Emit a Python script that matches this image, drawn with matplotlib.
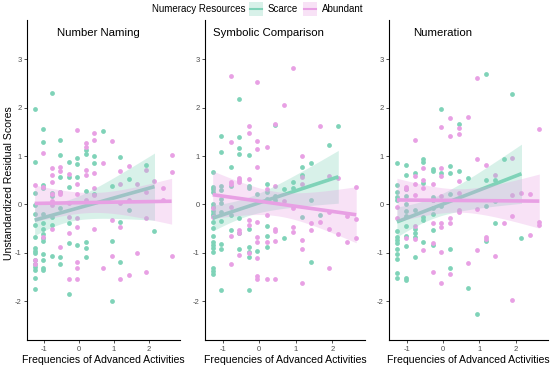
import matplotlib.pyplot as plt
import numpy as np
from matplotlib import rcParams
from matplotlib.patches import Rectangle
from matplotlib.lines import Line2D

rcParams.update({"font.family": ["Liberation Sans", "DejaVu Sans"]})

# frequency levels (x positions used in the data)
lv = [-1.27, -1.03, -0.78, -0.54, -0.29, -0.05, 0.20, 0.44, 0.69,
      0.93, 1.18, 1.42, 1.67, 1.91, 2.16, 2.40, 2.65]

panels = ["Number Naming", "Symbolic Comparison", "Numeration"]
groups = ["Scarce", "Abundant"]
colors = {"Scarce": "#7fd3b8", "Abundant": "#e8a0e4"}

# points per panel / group: {level index: [y values]}
nn_scarce = {
    0: [1.98, 0.87, 0.24, -0.01, -0.19, -0.43, -0.67, -0.89, -0.96, -1.01, -1.15, -1.23, -1.29, -1.36, -1.51, -1.75],
    1: [1.55, 1.29, 0.40, 0.33, -0.20, -0.38, -0.50, -0.62, -0.70, -0.76, -1.03, -1.14, -1.32, -1.36],
    2: [2.30, 0.23, 0.17, -0.25, -0.43, -1.06],
    3: [1.33, 1.02, 0.57, 0.26, -0.08, -1.08, -1.22],
    4: [0.88, 0.56, 0.36, -0.38, -0.80, -1.84],
    5: [0.96, 0.83, 0.56, -0.84],
    6: [1.13, 1.05, 0.28, -0.78, -0.89, -1.08],
    7: [1.00, 0.85, 0.21],
    8: [1.51],
    9: [0.39, -0.76, -2.00],
    10: [0.98, -0.37, -1.18],
    11: [0.52, -0.12],
    13: [0.81],
    14: [-0.54],
}
nn_abundant = {
    0: [0.41, -1.15, -1.23],
    1: [1.07, 0.36, -0.68],
    2: [0.76, 0.61, 0.47, 0.21, 0.08, -0.01, -0.51],
    3: [0.78, 0.69, 0.26, 0.21, -0.87],
    4: [0.63, 0.02, -0.25, -0.58, -1.53],
    5: [1.53, 0.42, 0.21, -0.29, -0.47, -1.18, -1.32, -1.55],
    6: [1.27, 1.18, 0.71, 0.61, 0.10],
    7: [1.48, 1.33, 0.64, 0.34, 0.19, -0.50],
    8: [0.85, -1.31],
    9: [1.31, -0.32, -1.07],
    10: [0.70, 0.43, 0.02, -0.47, -1.55],
    11: [0.79, 0.10, -1.46],
    12: [0.43, -1.01],
    13: [0.71, 0.26, -0.27, -1.40],
    14: [0.49],
    15: [0.33, 0.09],
    16: [1.03, 0.66, -1.07],
}
sc_scarce = {
    0: [0.67, 0.36, 0.31, 0.25, 0.00, -0.05, -0.13, -0.19, -0.24, -0.36, -0.48, -0.65, -0.77, -0.84, -0.89, -0.98, -1.32, -1.38, -1.44],
    1: [1.41, 1.09, 0.39, 0.30, 0.12, 0.03, -0.15, -0.34, -0.81, -0.92, -1.77],
    2: [0.78, 0.39, -0.22, -0.52],
    3: [2.18, 1.40, 1.17, 1.04, -0.29, -0.59, -0.91],
    4: [1.02, 0.39, 0.33, -0.50, -0.87, -0.99, -1.08, -1.76],
    5: [0.21, -0.96],
    6: [0.42, 0.26, 0.11, -0.45, -0.65, -0.87],
    7: [1.65, 0.18, 0.10],
    8: [0.31, -0.70],
    9: [0.47, 0.34],
    10: [0.78, 0.61, -0.25],
    11: [0.86, 0.09, -1.18],
    12: [-0.22],
    13: [1.22],
    14: [1.62],
}
sc_abundant = {
    0: [-0.08, -0.25],
    2: [2.66, 1.28, 0.47, 0.42, -0.05, -0.65, -1.24],
    3: [0.54, 0.50, 0.47, -0.52, -0.58, -1.05],
    4: [1.63, 1.48, 0.52, -0.32, -0.43, -1.01],
    5: [2.52, 1.32, 1.14, 0.77, -0.36, -0.67, -0.77, -1.10, -1.48, -1.55],
    6: [1.18, 0.31, -0.21, -0.77, -1.55],
    7: [1.66, 0.38, -0.50, -0.54, -0.76, -1.53],
    8: [2.06, 0.08],
    9: [2.81, -0.08, -0.46, -0.57],
    10: [1.00, 0.57, 0.43, -0.74, -0.91, -1.62],
    11: [-0.39, -0.52],
    12: [1.62, -0.36],
    13: [0.59, -0.15, -0.50, -1.32],
    14: [0.54, -0.61],
    15: [-0.23, -0.77],
    16: [0.36, -0.30, -0.69],
}
nu_scarce = {
    0: [0.86, 0.40, 0.26, 0.16, 0.10, -0.55, -0.67, -0.74, -0.79, -0.91, -1.03, -1.13, -1.41, -1.51],
    1: [0.81, 0.61, 0.31, 0.18, 0.01, -0.13, -0.24, -0.45, -0.65, -0.85, -1.51, -1.56],
    2: [0.65, -0.12, -0.50, -0.60, -0.68, -1.08],
    3: [0.93, 0.88, 0.45, -0.25, -0.32, -0.77],
    4: [0.74, 0.69, 0.16, 0.09, -0.08, -0.20, -0.52, -0.83],
    5: [1.97, 0.64, -0.03],
    6: [0.79, 0.65, 0.21, -0.91, -1.31],
    7: [1.67, 0.70],
    8: [0.54, -1.73],
    9: [-2.26],
    10: [2.69, 0.50, -0.03, -0.75],
    11: [0.50, 0.08, -0.39],
    12: [0.93],
    13: [2.28],
    14: [-0.69],
}
nu_abundant = {
    0: [-0.05, -0.29],
    1: [0.36, 0.31, -0.70],
    2: [1.34, 0.59, 0.42, 0.19, -0.45, -0.72],
    3: [0.76, 0.50, 0.33, -0.94],
    4: [0.42, 0.10, -0.39, -0.79, -1.39],
    5: [1.60, 0.76, 0.59, 0.17, -0.39, -0.47, -0.99, -1.62],
    6: [1.79, 1.42, -0.28, -0.39, -1.44],
    7: [1.58, 1.45, 0.48, 0.24, -0.12, -0.15],
    8: [1.81, -1.20],
    9: [2.62, 0.94, -0.10, -0.94],
    10: [0.81, -0.67, -0.72],
    11: [0.61, -1.07],
    12: [-0.39],
    13: [0.95, 0.19, -0.24, -1.98],
    14: [0.24],
    15: [0.21, -0.63],
    16: [1.55, -0.36, -0.43],
}

data = {
    "Number Naming": {"Scarce": nn_scarce, "Abundant": nn_abundant},
    "Symbolic Comparison": {"Scarce": sc_scarce, "Abundant": sc_abundant},
    "Numeration": {"Scarce": nu_scarce, "Abundant": nu_abundant},
}


def to_xy(d):
    xs, ys = [], []
    for k, vals in d.items():
        for v in vals:
            xs.append(lv[k])
            ys.append(v)
    return np.array(xs), np.array(ys)


def lm_band(x, y, n=80):
    # linear fit with 95% confidence band, like geom_smooth(method = "lm")
    b, a = np.polyfit(x, y, 1)
    xg = np.linspace(x.min(), x.max(), n)
    yg = a + b * xg
    res = y - (a + b * x)
    s = np.sqrt(np.sum(res ** 2) / (len(x) - 2))
    sxx = np.sum((x - x.mean()) ** 2)
    se = s * np.sqrt(1 / len(x) + (xg - x.mean()) ** 2 / sxx)
    return xg, yg, yg - 1.99 * se, yg + 1.99 * se


fig = plt.figure(figsize=(5.54, 3.70), dpi=100)
W, H = 554, 370
boxes = [(27.3, 152.7), (205, 160), (389.3, 158.7)]
title_x = [98, 268, 443]

for i, name in enumerate(panels):
    l, w = boxes[i]
    ax = fig.add_axes([l / W, 1 - 340 / H, w / W, 320 / H])
    for g in groups:
        x, y = to_xy(data[name][g])
        ax.scatter(x, y, s=12, color=colors[g], linewidths=0, zorder=1)
    for g in groups:
        x, y = to_xy(data[name][g])
        xg, yg, lo, hi = lm_band(x, y)
        ax.fill_between(xg, lo, hi, color=colors[g], alpha=0.3, linewidth=0, zorder=2)
        ax.plot(xg, yg, color=colors[g], linewidth=2.6, zorder=2, solid_capstyle='butt')
    ax.set_xlim(-1.48, 2.89)
    ax.set_ylim(-2.8, 3.81)
    ax.set_xticks([-1, 0, 1, 2])
    ax.set_yticks([-2, -1, 0, 1, 2, 3])
    ax.set_xticklabels(["-1", "0", "1", "2"])
    ax.set_yticklabels(["-2", "-1", "0", "1", "2", "3"])
    ax.tick_params(labelsize=5.5, labelcolor="#4d4d4d", color="#333333",
                   length=2.5, width=0.6, pad=1.5)
    for sp in ["top", "right"]:
        ax.spines[sp].set_visible(False)
    for sp in ["left", "bottom"]:
        ax.spines[sp].set_linewidth(0.8)
    ax.set_xlabel("Frequencies of Advanced Activities", fontsize=7.6, labelpad=2)
    if i == 0:
        ax.set_ylabel("Unstandardized Residual Scores", fontsize=7.6)
        ax.yaxis.set_label_coords(-0.088, 0.49)
    fig.text(title_x[i] / W, 1 - 33 / H, name, fontsize=8.2, ha="center", va="center")

# legend at the top
fig.text(245 / W, 1 - 9 / H, "Numeracy Resources", fontsize=7, ha="right", va="center")
kx = [249, 303]
for g, x0 in zip(groups, kx):
    fig.patches.append(Rectangle((x0 / W, 1 - 16 / H), 14 / W, 14 / H, transform=fig.transFigure,
                                 facecolor=colors[g], alpha=0.3, edgecolor="none"))
    fig.lines.append(Line2D([x0 / W + 1 / W, (x0 + 13) / W], [1 - 9 / H, 1 - 9 / H],
                            transform=fig.transFigure, color=colors[g], linewidth=1.5))
    fig.text((x0 + 19) / W, 1 - 9 / H, g, fontsize=7, ha="left", va="center")

fig.savefig("out.png", dpi=100)
